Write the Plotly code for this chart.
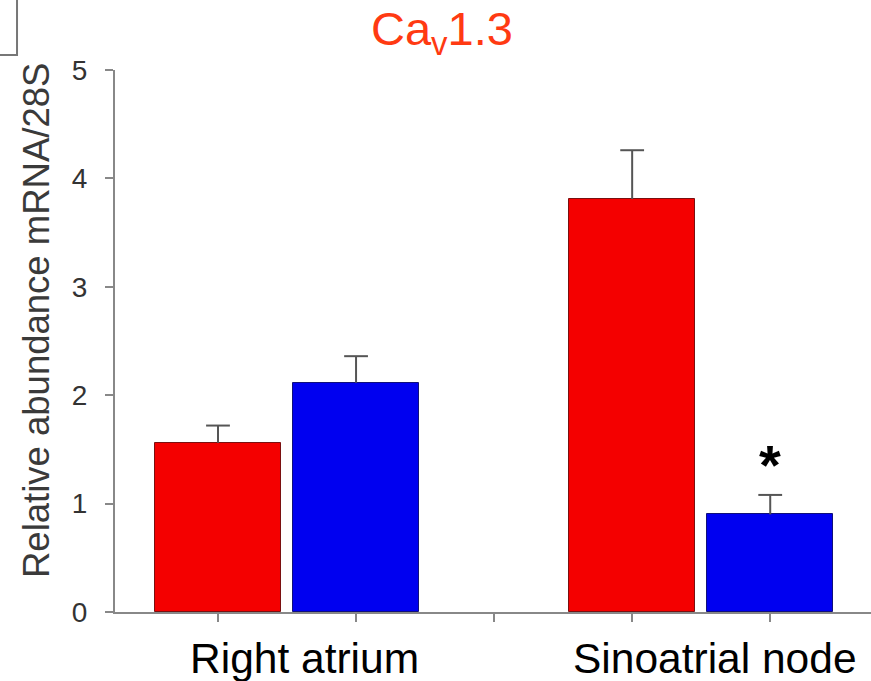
import plotly.graph_objects as go

categories = ["Right atrium", "Sinoatrial node"]
red_values = [1.56, 3.81]
red_errors = [0.16, 0.45]
blue_values = [2.115, 0.90]
blue_errors = [0.245, 0.18]
y_ticks = [0, 1, 2, 3, 4, 5]
title_text = "Ca<sub>v</sub>1.3"
y_title = "Relative abundance mRNA/28S"
significance = ["", "*"]

red_x = [3 * i + 1 for i in range(len(categories))]
blue_x = [3 * i + 2 for i in range(len(categories))]

fig = go.Figure()
err_col = "#555555"

def add_series(xs, vals, errs, fill, edge):
    fig.add_trace(go.Bar(x=xs, y=vals, width=0.913,
                         marker=dict(color=fill, line=dict(color=edge, width=1)),
                         showlegend=False, hoverinfo="skip"))
    tops = [v + e for v, e in zip(vals, errs)]
    fig.add_trace(go.Scatter(
        x=xs, y=tops, mode="markers",
        marker=dict(symbol="line-ew-open", size=17, color=err_col,
                    line=dict(color=err_col, width=2)),
        error_y=dict(type="data", symmetric=False, array=[0] * len(xs), arrayminus=errs,
                     width=0, thickness=2, color=err_col),
        showlegend=False, hoverinfo="skip"))

add_series(red_x, red_values, red_errors, "#F40000", "#7a1010")
add_series(blue_x, blue_values, blue_errors, "#0000F0", "#10107a")

axis_col = "#888888"
font_fam = "Liberation Sans, Arial"
fig.update_layout(
    width=871, height=681,
    margin=dict(l=115, r=0, t=70, b=69),
    plot_bgcolor="white", paper_bgcolor="white",
    bargap=0,
    xaxis=dict(range=[0.254, 5.73], tickvals=[1, 2, 3, 4, 5], showticklabels=False,
               ticks="outside", ticklen=8, tickwidth=2, tickcolor=axis_col,
               showline=True, linecolor=axis_col, linewidth=2, showgrid=False,
               zeroline=False, fixedrange=True),
    yaxis=dict(range=[0, 5], tickvals=y_ticks, ticks="outside", ticklen=8, tickwidth=2,
               tickcolor=axis_col, showline=True, linecolor=axis_col, linewidth=2,
               showgrid=False, zeroline=False, ticklabelstandoff=12, fixedrange=True,
               tickfont=dict(family=font_fam, size=28, color="#333333")),
)

# Y-axis title (as annotation for exact placement)
fig.add_annotation(text=y_title, xref="paper", yref="paper",
                   x=(36 - 115) / 756, y=(612 - 321) / 542,
                   xanchor="center", yanchor="middle", textangle=-90, showarrow=False,
                   font=dict(family=font_fam, size=36.5, color="#3a3a3a"))

# Title
fig.add_annotation(text=title_text, xref="paper", yref="paper", x=0.4325, y=1.07,
                   xanchor="center", yanchor="middle", showarrow=False,
                   font=dict(family=font_fam, size=47, color="#FF3A12"))

# Category labels
label_x = [1.63, 4.60]
for lx, cat in zip(label_x, categories):
    fig.add_annotation(text=cat, x=lx, xref="x", y=-0.085, yref="paper",
                       xanchor="center", yanchor="middle", showarrow=False,
                       font=dict(family=font_fam, size=42.5, color="black"))

# Significance markers
for xs, v, e, s in zip(blue_x, blue_values, blue_errors, significance):
    if s:
        fig.add_annotation(text="<b>" + s + "</b>", x=xs, y=v + e + 0.28, xref="x", yref="y",
                           xanchor="center", yanchor="middle", showarrow=False,
                           font=dict(family=font_fam, size=56, color="black"))

# Cropped panel-label box in top-left corner
fig.add_shape(type="path", xref="paper", yref="paper",
              path="M -0.16,1.0277 L -0.1296,1.0277 L -0.1296,1.14",
              line=dict(color="#777777", width=2))

fig.write_html("out.html", config={"displayModeBar": False},
               post_script="document.body.style.margin='0';document.body.style.overflow='hidden';")
